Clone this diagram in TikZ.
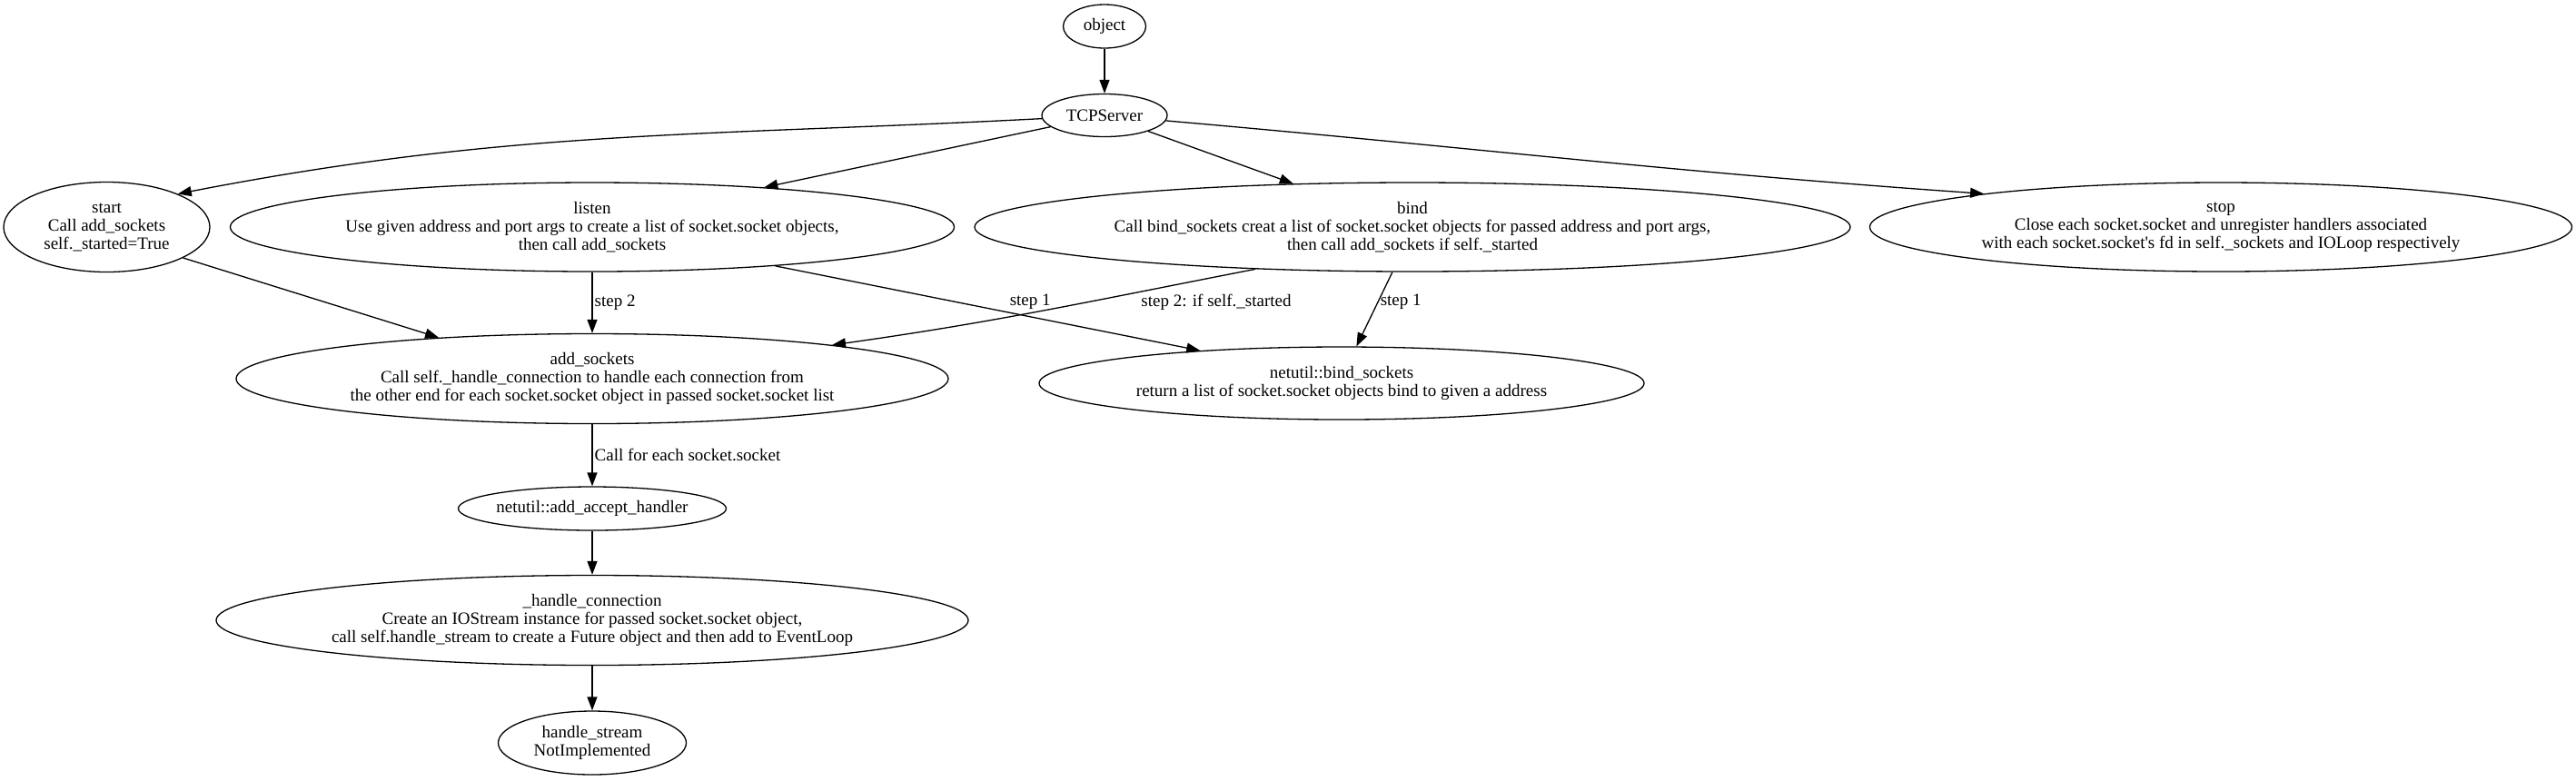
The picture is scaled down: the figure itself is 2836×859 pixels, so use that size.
\documentclass[tikz,border=0pt]{standalone}
\usepackage{fontspec}
\setmainfont{Liberation Serif}
\usetikzlibrary{shapes.geometric,arrows.meta}

\begin{document}
\begin{tikzpicture}[x=0.5pt,y=0.5pt,font=\fontsize{9.5}{10}\selectfont,
  fn/.style={ellipse,draw,line width=0.65pt,inner sep=0pt,label={[align=center]center:{#1}}},
  lab/.style={inner sep=1pt},
  ln/.style={-{Triangle[length=7.5pt,width=5.5pt]},line width=0.65pt}]
\useasboundingbox (0,0) rectangle (2836,-859);
% class and its methods
\node[fn=object,minimum width=45.5pt,minimum height=24pt] (object) at (1216,-29) {};
\node[fn=TCPServer,minimum width=69pt,minimum height=23.5pt] (tcp) at (1216,-127) {};
\node[fn={start\\Call add\_sockets\\self.\_started=True},minimum width=113.5pt,minimum height=49.5pt] (start) at (117.5,-250) {};
\node[fn={listen\\Use given address and port args to create a list of socket.socket objects,\\then call add\_sockets},minimum width=398.5pt,minimum height=49pt] (listen) at (652,-250) {};
\node[fn={bind\\Call bind\_sockets creat a list of socket.socket objects for passed address and port args,\\then call add\_sockets if self.\_started},minimum width=482pt,minimum height=49pt] (bind) at (1555,-250) {};
\node[fn={stop\\Close each socket.socket and unregister handlers associated\\with each socket.socket\textquotesingle s fd in self.\_sockets and IOLoop respectively},minimum width=386.5pt,minimum height=49pt] (stop) at (2445,-250) {};
\node[fn={add\_sockets\\Call self.\_handle\_connection to handle each connection from\\the other end for each socket.socket object in passed socket.socket list},minimum width=392pt,minimum height=49.5pt] (addsock) at (652,-417) {};
\node[fn={netutil::bind\_sockets\\return a list of socket.socket objects bind to given a address},minimum width=333pt,minimum height=40pt] (bindsock) at (1477,-422) {};
\node[fn={netutil::add\_accept\_handler},minimum width=147.5pt,minimum height=24pt] (accept) at (652,-560) {};
\node[fn={\_handle\_connection\\Create an IOStream instance for passed socket.socket object,\\call self.handle\_stream to create a Future object and then add to EventLoop},minimum width=414pt,minimum height=49.5pt] (handleconn) at (652,-683) {};
\node[fn={handle\_stream\\NotImplemented},minimum width=103.5pt,minimum height=35pt] (handlestream) at (652,-818) {};
% calls
\draw[ln] (object) -- (tcp);
\draw[ln] (tcp.183) to[out=183,in=11] (start.25);
\draw[ln] (tcp.192) -- (listen.13);
\draw[ln] (tcp.340) -- (bind.160);
\draw[ln] (tcp.355) to[out=-5,in=176] (stop.172);
\draw[ln] (start.338) -- (addsock.165);
\draw[ln] (listen) -- node[lab,right]{step 2} (addsock);
\draw[ln] (listen.348) -- node[lab,above=3pt,pos=0.6]{step 1} (bindsock.167);
\draw[ln] (bind.195) to[out=191,in=8] node[lab,pos=0.26,anchor=north west]{step 2: if self.\_started} (addsock.8);
\draw[ln] (bind.246) -- node[lab,right,pos=0.4]{step 1} (bindsock.68);
\draw[ln] (addsock) -- node[lab,right]{Call for each socket.socket} (accept);
\draw[ln] (accept) -- (handleconn);
\draw[ln] (handleconn) -- (handlestream);
\end{tikzpicture}
\end{document}
